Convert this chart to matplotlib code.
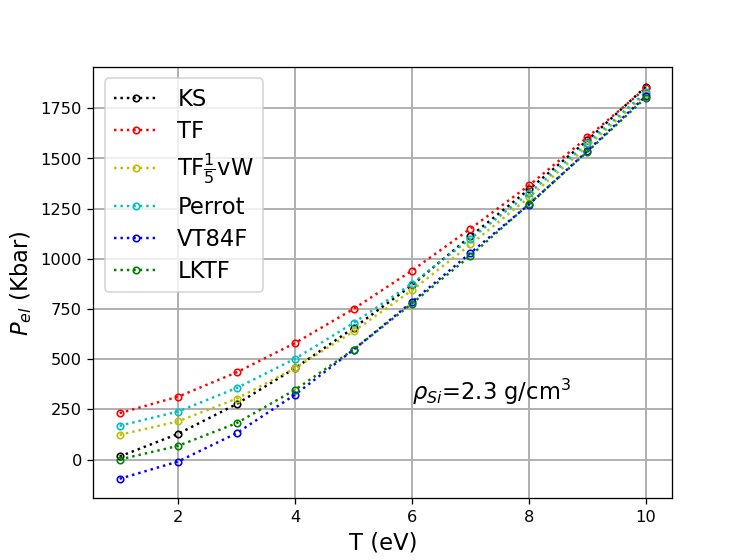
import numpy as np
import matplotlib.pyplot as plt

T = [1, 2, 3, 4, 5, 6, 7, 8, 9, 10]

ks = [15, 128, 276, 455, 655, 868, 1112, 1345, 1590, 1857]
tf = [231, 313, 434, 580, 750, 941, 1150, 1365, 1605, 1850]
tf15vw = [123, 190, 303, 455, 638, 843, 1071, 1305, 1560, 1820]
perrot = [168, 239, 356, 502, 680, 876, 1100, 1325, 1575, 1830]
vt84f = [-96, -10, 131, 323, 547, 785, 1029, 1270, 1537, 1810]
lktf = [0, 68, 181, 347, 547, 777, 1015, 1272, 1533, 1803]

labels = ['KS', 'TF', r'TF$\frac{1}{5}$vW', 'Perrot', 'VT84F', 'LKTF']
colors = ['k', 'r', 'y', 'c', 'b', 'g']

fig = plt.figure(figsize=(6.4, 4.8), dpi=116.7)
ax = fig.add_subplot(111)
for data, lab, c in zip([ks, tf, tf15vw, perrot, vt84f, lktf], labels, colors):
    ax.plot(T, data, ':o', color=c, markerfacecolor='none', markersize=4, label=lab)

ax.text(6, 300, r'$\rho_{Si}$=2.3 g/cm$^3$', fontsize=14)
ax.set_xlabel('T (eV)', fontsize=14)
ax.set_ylabel(r'$P_{el}$ (Kbar)', fontsize=14)
ax.grid(True, linewidth=1.2)
ax.legend(fontsize=14, labelspacing=0.4)

fig.savefig('out.png', dpi=116.7)
